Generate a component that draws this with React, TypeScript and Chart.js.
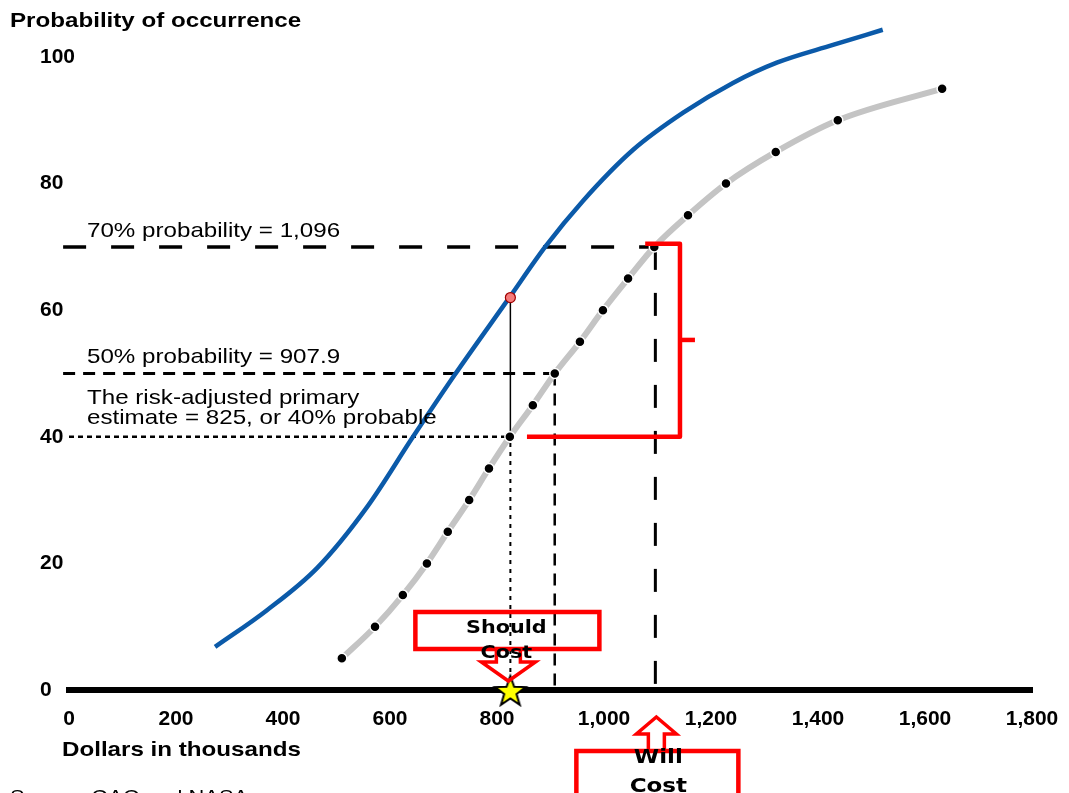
import React, { useEffect, useRef } from 'react';
import { Chart, registerables } from 'chart.js';

Chart.register(...registerables);

// ---- Axis ticks ----
const xTickValues = [0, 200, 400, 600, 800, 1000, 1200, 1400, 1600, 1800];
const xTickLabels = ['0', '200', '400', '600', '800', '1,000', '1,200', '1,400', '1,600', '1,800'];
const yTickValues = [0, 20, 40, 60, 80, 100];
const yTickLabels = ['0', '20', '40', '60', '80', '100'];

// ---- Blue curve (cost in thousands vs probability) ----
const blueCost = [273, 370, 464, 557, 643, 721, 824, 890, 961, 1054, 1148, 1241, 1323, 1428, 1521];
const blueProb = [6.8, 12.6, 19.3, 28.9, 40.0, 49.8, 62.1, 70.0, 77.3, 85.3, 91.2, 95.9, 99.1, 101.9, 104.3];

// ---- Gray dotted S-curve ----
const grayCost = [510, 572, 624, 669, 708, 748, 785, 824, 867, 908, 955, 998, 1045, 1094, 1157, 1228, 1321, 1437, 1632];
const grayProb = [5, 10, 15, 20, 25, 30, 35, 40, 45, 50, 55, 60, 65, 70, 75, 80, 85, 90, 95];

// ---- Reference values ----
const lineStart = -11;
const cost70 = 1096;
const prob70 = 70;
const cost50 = 907.9;
const prob50 = 50;
const costEstimate = 825;
const probEstimate = 40;
const probEstimateBlue = 62;

// ---- Red bracket (data coordinates) ----
const bracketCost = [856, 1142, 1142, 1077];
const bracketProb = [40, 40, 70.5, 70.5];
const bracketNubCost = [1142, 1170];
const bracketNubProb = [55.3, 55.3];

// ---- Texts ----
const yTitle = 'Probability of occurrence';
const xTitle = 'Dollars in thousands';
const label70 = '70% probability = 1,096';
const label50 = '50% probability = 907.9';
const labelEstimate = ['The risk-adjusted primary', 'estimate = 825, or 40% probable'];
const shouldText = ['Should', 'Cost'];
const willText = ['Will', 'Cost'];
const sourceText = 'Source: GAO and NASA';

const SANS = '"Liberation Sans", Arial, Helvetica, sans-serif';
const DEJAVU = '"DejaVu Sans", Verdana, sans-serif';
const STRETCH = 1.15;

function pts(xs: number[], ys: number[]) {
  return xs.map((x, i) => ({ x, y: ys[i] }));
}

function makeStar(): HTMLCanvasElement {
  const c = document.createElement('canvas');
  c.width = 40;
  c.height = 40;
  const g = c.getContext('2d')!;
  const R = 16, r = 6.5, cx = 20, cy = 22;
  g.beginPath();
  for (let i = 0; i < 10; i++) {
    const rad = i % 2 === 0 ? R : r;
    const a = -Math.PI / 2 + (i * Math.PI) / 5;
    const px = cx + rad * Math.cos(a);
    const py = cy + rad * Math.sin(a);
    if (i === 0) g.moveTo(px, py);
    else g.lineTo(px, py);
  }
  g.closePath();
  g.fillStyle = '#ffff00';
  g.fill();
  g.lineWidth = 2;
  g.strokeStyle = '#000';
  g.stroke();
  return c;
}

function drawText(
  ctx: CanvasRenderingContext2D,
  text: string,
  x: number,
  y: number,
  font: string,
  align: CanvasTextAlign = 'left',
  sx = STRETCH
) {
  ctx.save();
  ctx.font = font;
  ctx.fillStyle = '#000';
  ctx.textAlign = align;
  ctx.textBaseline = 'alphabetic';
  ctx.translate(x, y);
  ctx.scale(sx, 1);
  ctx.fillText(text, 0, 0);
  ctx.restore();
}

const overlayPlugin = {
  id: 'overlay',
  afterDraw(chart: any) {
    const ctx: CanvasRenderingContext2D = chart.ctx;
    const xs = chart.scales.x;
    const ys = chart.scales.y;
    const y0 = ys.getPixelForValue(0);
    const sX = xs.getPixelForValue(costEstimate) - 2;
    const wX = xs.getPixelForValue(cost70) + 1;

    // Axis titles and annotation texts
    drawText(ctx, yTitle, 10, 27, `bold 21px ${SANS}`);
    drawText(ctx, xTitle, 62, 756, `bold 21px ${SANS}`);
    drawText(ctx, label70, 87, 237, `21px ${SANS}`);
    drawText(ctx, label50, 87, 363, `21px ${SANS}`);
    drawText(ctx, labelEstimate[0], 87, 404, `21px ${SANS}`);
    drawText(ctx, labelEstimate[1], 87, 424, `21px ${SANS}`);
    drawText(ctx, sourceText, 10, 803, `19px ${SANS}`);

    ctx.save();
    ctx.strokeStyle = '#ff0000';
    ctx.lineJoin = 'miter';

    // Should Cost box
    ctx.lineWidth = 4.5;
    ctx.strokeRect(sX - 93, y0 - 78, 184, 37);
    // Down arrow
    ctx.lineWidth = 3.5;
    ctx.beginPath();
    ctx.moveTo(sX - 12, y0 - 41);
    ctx.lineTo(sX - 12, y0 - 28);
    ctx.lineTo(sX - 27, y0 - 28);
    ctx.lineTo(sX, y0 - 9);
    ctx.lineTo(sX + 27, y0 - 28);
    ctx.lineTo(sX + 12, y0 - 28);
    ctx.lineTo(sX + 12, y0 - 41);
    ctx.stroke();

    // Will Cost box
    ctx.lineWidth = 4.5;
    ctx.strokeRect(wX - 80, y0 + 61, 162, 60);
    // Up arrow
    ctx.lineWidth = 3.5;
    ctx.beginPath();
    ctx.moveTo(wX - 8, y0 + 61);
    ctx.lineTo(wX - 8, y0 + 44);
    ctx.lineTo(wX - 20, y0 + 44);
    ctx.lineTo(wX, y0 + 27);
    ctx.lineTo(wX + 20, y0 + 44);
    ctx.lineTo(wX + 8, y0 + 44);
    ctx.lineTo(wX + 8, y0 + 61);
    ctx.stroke();
    ctx.restore();

    drawText(ctx, shouldText[0], sX - 2, y0 - 57, `bold 18px ${DEJAVU}`, 'center');
    drawText(ctx, shouldText[1], sX - 2, y0 - 32, `bold 18px ${DEJAVU}`, 'center');
    drawText(ctx, willText[0], wX + 2, y0 + 73, `bold 20px ${DEJAVU}`, 'center');
    drawText(ctx, willText[1], wX + 2, y0 + 102, `bold 20px ${DEJAVU}`, 'center');
  },
};

export default function App() {
  const ref = useRef<HTMLCanvasElement | null>(null);

  useEffect(() => {
    if (!ref.current) return;
    const star = makeStar();
    const dashLine = (data: any[], dash: number[], width: number, color = '#000') => ({
      data,
      showLine: true,
      borderColor: color,
      borderWidth: width,
      borderDash: dash,
      pointRadius: 0,
      pointHoverRadius: 0,
      clip: false,
      borderCapStyle: 'butt',
    });

    const chart = new Chart(ref.current, {
      type: 'scatter',
      data: {
        datasets: [
          {
            data: [{ x: costEstimate, y: 0 }],
            pointStyle: star,
            pointRadius: 16,
            clip: false,
          } as any,
          {
            data: pts(bracketCost, bracketProb),
            showLine: true,
            borderColor: '#ff0000',
            borderWidth: 4.5,
            borderJoinStyle: 'round',
            pointRadius: 0,
            clip: false,
          } as any,
          {
            data: pts(bracketNubCost, bracketNubProb),
            showLine: true,
            borderColor: '#ff0000',
            borderWidth: 4.5,
            pointRadius: 0,
            clip: false,
          } as any,
          {
            data: [{ x: costEstimate, y: probEstimateBlue }],
            pointRadius: 5,
            pointBackgroundColor: '#f47a7a',
            pointBorderColor: '#a00000',
            pointBorderWidth: 1.2,
            clip: false,
          } as any,
          {
            data: pts(blueCost, blueProb),
            showLine: true,
            borderColor: '#0b5aa9',
            borderWidth: 4.5,
            pointRadius: 0,
            cubicInterpolationMode: 'monotone',
            clip: false,
          } as any,
          {
            data: pts(grayCost, grayProb),
            showLine: true,
            borderColor: '#c4c4c4',
            borderWidth: 6,
            pointRadius: 5,
            pointBackgroundColor: '#000',
            pointBorderColor: '#fff',
            pointBorderWidth: 1.5,
            cubicInterpolationMode: 'monotone',
            clip: false,
          } as any,
          dashLine([{ x: costEstimate, y: probEstimate }, { x: costEstimate, y: probEstimateBlue }], [], 1.5) as any,
          dashLine([{ x: costEstimate, y: 0 }, { x: costEstimate, y: probEstimate }], [4, 5], 2) as any,
          dashLine([{ x: 0, y: probEstimate }, { x: costEstimate, y: probEstimate }], [5, 4], 2.5) as any,
          dashLine([{ x: lineStart, y: prob50 }, { x: cost50, y: prob50 }], [12, 8], 3) as any,
          dashLine([{ x: cost50, y: prob50 }, { x: cost50, y: 0 }], [12, 8], 2.5) as any,
          dashLine([{ x: lineStart, y: prob70 }, { x: cost70, y: prob70 }], [23, 25], 3.5) as any,
          dashLine([{ x: cost70, y: prob70 }, { x: cost70, y: 0 }], [23, 23], 3) as any,
        ],
      },
      options: {
        responsive: false,
        animation: false,
        events: [],
        layout: { padding: { left: 40, right: 37, top: 19, bottom: 63 } },
        plugins: {
          legend: { display: false },
          tooltip: { enabled: false },
          title: { display: false },
        },
        scales: {
          x: {
            type: 'linear',
            min: 0,
            max: 1800,
            afterBuildTicks: (s: any) => {
              s.ticks = xTickValues.map((v) => ({ value: v }));
            },
            ticks: {
              callback: (v: any) => {
                const i = xTickValues.indexOf(Number(v));
                return i >= 0 ? xTickLabels[i] : '';
              },
              font: { family: SANS, size: 21, weight: 'bold' },
              color: '#000',
              padding: 17,
              autoSkip: false,
              maxRotation: 0,
            },
            grid: { display: false, drawTicks: false },
            border: { display: true, color: '#000', width: 6 },
            afterFit: (s: any) => {
              s.height = 40;
              s.paddingLeft = 0;
              s.paddingRight = 0;
            },
          },
          y: {
            type: 'linear',
            min: 0,
            max: 106,
            afterBuildTicks: (s: any) => {
              s.ticks = yTickValues.map((v) => ({ value: v }));
            },
            ticks: {
              callback: (v: any) => {
                const i = yTickValues.indexOf(Number(v));
                return i >= 0 ? yTickLabels[i] : '';
              },
              font: { family: SANS, size: 21, weight: 'bold' },
              color: '#000',
              mirror: true,
              padding: -29,
            },
            grid: { display: false, drawTicks: false },
            border: { display: false },
            afterFit: (s: any) => {
              s.width = 29;
              s.paddingTop = 0;
              s.paddingBottom = 0;
            },
          },
        },
      } as any,
      plugins: [overlayPlugin],
    });
    return () => chart.destroy();
  }, []);

  return (
    <div style={{ position: 'fixed', left: 0, top: 0, width: 1069, height: 793, background: '#fff', overflow: 'hidden' }}>
      <canvas ref={ref} width={1069} height={793} style={{ display: 'block', width: 1069, height: 793 }} />
    </div>
  );
}
